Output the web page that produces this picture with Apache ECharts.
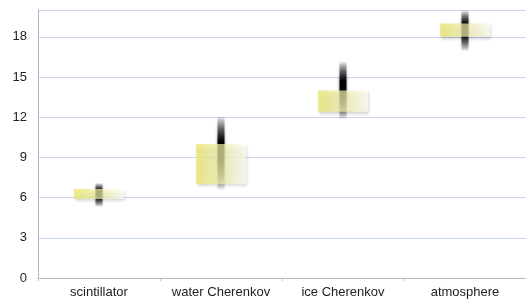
<!DOCTYPE html>
<html>
<head>
<meta charset="utf-8">
<script src="https://cdn.jsdelivr.net/npm/echarts@6/dist/echarts.min.js"></script>
<style>
  html, body { margin: 0; padding: 0; background: #ffffff; }
  #main { width: 526px; height: 299px; }
</style>
</head>
<body>
<div id="main"></div>
<script>
var categories = ['scintillator', 'water Cherenkov', 'ice Cherenkov', 'atmosphere'];
var boxLow = [5.9, 7.0, 12.4, 18.0];
var boxHigh = [6.65, 10.0, 14.0, 19.0];
var whiskerLow = [5.3, 6.5, 11.8, 16.9];
var whiskerHigh = [7.1, 12.1, 16.2, 20.5];

var seriesData = [];
for (var i = 0; i < categories.length; i++) {
  seriesData.push([i, boxLow[i], boxHigh[i], whiskerLow[i], whiskerHigh[i]]);
}

var chart = echarts.init(document.getElementById('main'));

function renderItem(params, api) {
  var idx = api.value(0);
  var bLo = api.coord([idx, api.value(1)]);
  var bHi = api.coord([idx, api.value(2)]);
  var wLo = api.coord([idx, api.value(3)]);
  var wHi = api.coord([idx, api.value(4)]);
  var cw = api.size([1, 0])[0];
  var boxW = cw * 0.41;
  var cx = bLo[0];
  var top = params.coordSys.y;
  var wTop = Math.max(wHi[1], top);
  var wWidth = 7;
  return {
    type: 'group',
    children: [
      {
        type: 'rect',
        shape: { x: cx - wWidth / 2, y: wTop, width: wWidth, height: wLo[1] - wTop },
        style: {
          fill: new echarts.graphic.LinearGradient(0, 0, 0, 1, [
            { offset: 0, color: 'rgba(0,0,0,0)' },
            { offset: 0.35, color: 'rgba(0,0,0,1)' },
            { offset: 0.6, color: 'rgba(0,0,0,0.9)' },
            { offset: 1, color: 'rgba(0,0,0,0)' }
          ]),
          shadowBlur: 3,
          shadowColor: 'rgba(0,0,0,0.5)'
        }
      },
      {
        type: 'rect',
        shape: { x: cx - boxW / 2, y: bHi[1], width: boxW, height: bLo[1] - bHi[1] },
        style: {
          fill: new echarts.graphic.LinearGradient(0, 0, 1, 0, [
            { offset: 0, color: 'rgba(236,233,120,0.85)' },
            { offset: 0.5, color: 'rgba(244,242,170,0.7)' },
            { offset: 1, color: 'rgba(255,255,245,0.8)' }
          ]),
          shadowBlur: 3,
          shadowOffsetX: 1,
          shadowOffsetY: 2,
          shadowColor: 'rgba(0,0,0,0.25)'
        }
      }
    ]
  };
}

chart.setOption({
  backgroundColor: '#ffffff',
  animation: false,
  grid: {
    left: 38,
    right: -5,
    top: 10,
    bottom: 21,
    containLabel: false
  },
  xAxis: {
    type: 'category',
    data: categories,
    boundaryGap: true,
    axisLine: { lineStyle: { color: '#b4bcc4' } },
    axisTick: { show: true, interval: 0, length: 3, lineStyle: { color: '#c0c6cc' } },
    axisLabel: {
      interval: 0,
      hideOverlap: false,
      color: '#222',
      fontFamily: 'Liberation Sans',
      fontSize: 13,
      margin: 8
    },
    splitLine: { show: false }
  },
  yAxis: {
    type: 'value',
    min: 0,
    max: 20,
    interval: 3,
    axisLine: { show: true, lineStyle: { color: '#a8b8c0' } },
    axisTick: { show: false },
    axisLabel: {
      color: '#222',
      fontFamily: 'Liberation Sans',
      fontSize: 13,
      margin: 11,
      showMaxLabel: false
    },
    splitLine: { show: true, lineStyle: { color: '#c8d5f2', width: 1 } }
  },
  series: [{
    type: 'custom',
    renderItem: renderItem,
    encode: { x: 0, y: [1, 2, 3, 4] },
    data: seriesData,
    clip: true
  }]
});
</script>
</body>
</html>
